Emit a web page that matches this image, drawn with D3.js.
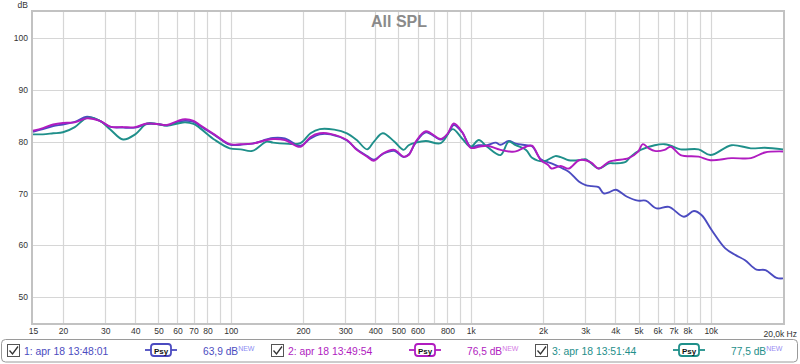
<!DOCTYPE html>
<html><head><meta charset="utf-8">
<script src="https://cdn.jsdelivr.net/npm/d3@7"></script>
<style>
body{margin:0;background:#fff;}
svg{display:block;font-family:"Liberation Sans",Arial,sans-serif;}
</style>
</head><body>
<svg id="chart" width="800" height="364"></svg>
<script>
// ---------- data ----------
const chartTitle = "All SPL";
const yUnit = "dB";
const yTicks = [50, 60, 70, 80, 90, 100];
const xTicks = [15,20,30,40,50,60,70,80,100,200,300,400,500,600,800,1000,2000,3000,4000,5000,6000,7000,8000,10000];
const xTickLabels = ["15","20","30","40","50","60","70","80","100","200","300","400","500","600","800","1k","2k","3k","4k","5k","6k","7k","8k","10k"];
const xEndLabel = "20,0k Hz";
const xGrid = [20,30,40,50,60,70,80,90,100,200,300,400,500,600,700,800,900,1000,2000,3000,4000,5000,6000,7000,8000,9000,10000];

const seriesNames = ["1: apr 18 13:48:01", "2: apr 18 13:49:54", "3: apr 18 13:51:44"];
const seriesLevels = ["63,9 dB", "76,5 dB", "77,5 dB"];
const seriesBadge = "Psy";
const newTag = "NEW";

const freq1 = [15,16.5,18.2,20,22.4,25.2,28.5,31.4,35.6,40,44.8,49.3,54.3,60.3,64.5,70,74.4,86,99,110,123,141,150,168,195,215,235,260,305,335,370,395,430,480,525,551,590,650,750,800,850,920,1000,1080,1170,1270,1330,1440,1540,1700,1800,1960,2170,2370,2560,2820,3010,3190,3410,3580,3760,4020,4460,4970,5360,5950,6690,7730,8510,9170,10100,11500,12700,13900,15500,16900,18800,20000];
const spl1  = [81.9,82.4,83.0,83.3,83.8,84.8,84.0,82.9,82.7,82.7,83.4,83.4,83.1,83.8,84.0,83.8,83.0,81.2,79.4,79.4,79.6,80.4,80.7,80.6,79.2,80.6,81.4,81.4,80.2,78.5,77.2,76.5,77.6,78.2,77.0,77.5,79.8,81.8,80.4,81.4,83.2,81.8,79.0,79.3,79.3,79.8,79.4,80.1,79.6,79.3,79.1,76.6,75.8,75.0,74.2,72.3,71.6,71.4,71.2,70.0,70.2,70.7,69.4,68.6,68.6,67.1,67.4,65.5,66.6,65.8,62.9,59.4,58.1,57.1,55.3,55.2,53.7,53.6];

const freq2 = [15,16.5,18.2,20,22.4,25.2,28.5,31.4,35.6,40,44.8,49.3,54.3,60.3,64.5,70,74.4,86,99,110,123,141,150,168,195,215,235,260,305,335,370,395,430,480,525,551,590,650,750,800,850,920,1000,1080,1170,1330,1440,1540,1700,1800,1960,2100,2170,2370,2560,2820,3010,3190,3410,3760,4010,4550,4970,5210,5520,5840,6420,6810,7490,8900,9970,12200,14700,16800,20000];
const spl2  = [82.1,82.6,83.3,83.6,83.7,84.5,84.0,82.9,82.8,82.8,83.5,83.4,83.2,84.0,84.3,84.0,83.2,81.3,79.5,79.5,79.6,80.3,80.5,80.3,79.0,80.9,81.6,81.5,80.3,78.4,77.1,76.3,77.7,78.4,77.1,77.4,80.0,82.0,80.5,81.5,83.5,81.9,78.8,79.0,79.2,78.4,78.1,78.1,79.0,79.2,76.4,75.5,74.8,75.3,74.8,76.4,76.4,75.9,74.8,76.1,76.4,76.8,78.0,79.5,78.7,78.2,78.4,79.0,77.4,77.1,76.4,76.8,76.8,77.9,78.1];

const freq3 = [15,16.5,18.2,20,22.4,25.2,28.5,31.4,35.6,40,44.8,49.3,54.3,60.3,64.5,70,74.4,86,99,110,123,141,150,168,195,215,235,270,305,335,370,395,430,480,525,551,590,650,750,840,920,1000,1080,1170,1330,1440,1540,1700,1800,2010,2250,2370,2560,2820,3010,3410,3760,4010,4420,4640,5100,5840,6420,6810,7490,8900,9970,12200,14700,16800,20000];
const spl3  = [81.4,81.4,81.6,81.8,82.8,84.6,84.0,82.4,80.4,81.4,83.5,83.4,83.1,83.5,83.7,83.4,82.6,80.3,78.7,78.5,78.2,80.0,79.8,79.6,79.7,81.6,82.4,82.3,81.6,80.3,78.5,80.0,81.6,80.0,78.4,79.3,79.8,80.1,79.7,82.4,80.6,79.0,80.3,79.0,77.4,80.0,79.3,78.4,76.9,76.2,77.2,77.0,76.4,76.4,76.6,74.8,75.8,75.8,76.1,77.1,78.4,79.3,79.5,79.2,78.5,78.5,77.4,79.3,78.7,78.8,78.5];

const seriesColors = ["#4b4bc0", "#b01cc0", "#1f8f8a"];
const newColors = ["#8c8cf2", "#d47ae4", "#9a8cf2"];

// ---------- layout ----------
const svg = d3.select("#chart");
const L = 33, R = 783, T = 11, B = 324;
const x = d3.scaleLog().domain([15, 20000]).range([L, R]);
const y = d3.scaleLinear().domain([44.8, 105.2]).range([B, T]);

svg.append("rect").attr("width", 800).attr("height", 364).attr("fill", "#fff");

// grid
const g = svg.append("g");
g.selectAll(".vg").data(xGrid).join("line")
  .attr("x1", d => Math.round(x(d)) + 0.5).attr("x2", d => Math.round(x(d)) + 0.5)
  .attr("y1", T).attr("y2", B).attr("stroke", "#d6d6d6").attr("stroke-width", 1.2);
g.selectAll(".hg").data(yTicks).join("line")
  .attr("x1", L).attr("x2", R + 1)
  .attr("y1", d => Math.round(y(d)) + 0.5).attr("y2", d => Math.round(y(d)) + 0.5)
  .attr("stroke", "#d6d6d6").attr("stroke-width", 1.2);

// frame
svg.append("rect").attr("x", 32).attr("y", 11).attr("width", 752).attr("height", 313)
  .attr("fill", "none").attr("stroke", "#c2c2c2").attr("stroke-width", 2);

// title
svg.append("text").attr("x", 399).attr("y", 27).attr("text-anchor", "middle")
  .attr("font-size", 16).attr("font-weight", "bold").attr("fill", "#8a8a8a").text(chartTitle);

// y axis labels
const yAxis = d3.axisLeft(y).tickValues(yTicks).tickSize(0).tickPadding(0).tickFormat(d3.format("d"));
const ya = svg.append("g").attr("transform", "translate(28,0)").call(yAxis);
ya.select(".domain").remove();
ya.selectAll("text").attr("font-size", 8.5).attr("fill", "#333").attr("font-family", "Liberation Sans, Arial, sans-serif");
svg.append("text").attr("x", 28).attr("y", 8).attr("text-anchor", "end")
  .attr("font-size", 8.5).attr("fill", "#333").text(yUnit);

// x axis labels
const xAxis = d3.axisBottom(x).tickValues(xTicks).tickSize(0).tickPadding(0)
  .tickFormat((d, i) => xTickLabels[i]);
const xa = svg.append("g").attr("transform", "translate(0,328)").call(xAxis);
xa.select(".domain").remove();
xa.selectAll("text").attr("font-size", 8.5).attr("fill", "#333").attr("font-family", "Liberation Sans, Arial, sans-serif");
svg.append("text").attr("x", 797).attr("y", 336.5).attr("text-anchor", "end")
  .attr("font-size", 8.5).attr("fill", "#333").text(xEndLabel);

// curves
const series = [
  {f: freq1, v: spl1, c: seriesColors[0]},
  {f: freq3, v: spl3, c: seriesColors[2]},
  {f: freq2, v: spl2, c: seriesColors[1]}
];
const line = d3.line().x(d => x(d[0])).y(d => y(d[1])).curve(d3.curveCatmullRom.alpha(0.5));
series.forEach(s => {
  svg.append("path").datum(s.f.map((f, i) => [f, s.v[i]]))
    .attr("d", line).attr("fill", "none").attr("stroke", s.c)
    .attr("stroke-width", 1.9).attr("stroke-linejoin", "round");
});

// legend
svg.append("rect").attr("x", 1.5).attr("y", 339.5).attr("width", 796).attr("height", 22.5)
  .attr("rx", 4).attr("fill", "#fff").attr("stroke", "#9a9a9a").attr("stroke-width", 1);

seriesNames.forEach((name, i) => {
  const bx = 7 + i * 264;
  const lg = svg.append("g").attr("transform", `translate(${bx},0)`);
  // checkbox
  lg.append("rect").attr("x", 0.5).attr("y", 344.5).attr("width", 12).attr("height", 12)
    .attr("fill", "#fff").attr("stroke", "#555").attr("stroke-width", 1);
  lg.append("path").attr("d", "M2.5,350.5 L5.5,354 L11,346.5").attr("fill", "none")
    .attr("stroke", "#333").attr("stroke-width", 1.3);
  lg.append("text").attr("x", 17).attr("y", 354.5).attr("font-size", 10.4)
    .attr("fill", seriesColors[i]).text(name);
  // badge
  lg.append("line").attr("x1", 138).attr("x2", 170).attr("y1", 350).attr("y2", 350)
    .attr("stroke", seriesColors[i]).attr("stroke-width", 1.8);
  lg.append("rect").attr("x", 144).attr("y", 344).attr("width", 20).attr("height", 12)
    .attr("rx", 3).attr("fill", "#fff").attr("stroke", seriesColors[i]).attr("stroke-width", 1.8);
  lg.append("text").attr("x", 154).attr("y", 353.5).attr("text-anchor", "middle")
    .attr("font-size", 8).attr("font-weight", "bold").attr("fill", "#111").text(seriesBadge);
  // level
  const t = lg.append("text").attr("x", 196).attr("y", 354.5).attr("font-size", 10.2)
    .attr("fill", seriesColors[i]);
  t.append("tspan").text(seriesLevels[i]);
  t.append("tspan").attr("dy", -4).attr("font-size", 7).attr("fill", newColors[i]).text(newTag);
});
</script>
</body></html>
